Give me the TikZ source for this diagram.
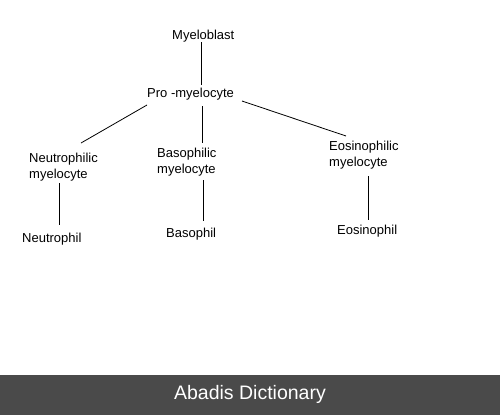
\documentclass[tikz,border=0pt]{standalone}
\usepackage{fontspec}
\setmainfont{Liberation Sans}
\definecolor{barcol}{HTML}{4A4A4A}
\begin{document}
\begin{tikzpicture}[x=1pt,y=-1pt,
  lbl/.style={inner sep=0pt,anchor=west,yshift=-1.5pt,font=\fontsize{13}{16}\selectfont,align=left,text=black},
  link/.style={draw=black,line width=0.8pt}]
\useasboundingbox (0,0) rectangle (500,415);
\fill[white] (0,0) rectangle (500,415);
\fill[barcol] (0,375) rectangle (500,415);
\node[inner sep=0pt,text=white,font=\fontsize{19.5}{22}\selectfont] (bar) at (250,394) {Abadis Dictionary};

\node[lbl] (mb) at (172,35) {Myeloblast};
\node[lbl] (pm) at (147,93) {Pro -myelocyte};
\node[lbl] (nm) at (29,166) {Neutrophilic\\myelocyte};
\node[lbl] (bm) at (157,161) {Basophilic\\myelocyte};
\node[lbl] (em) at (329,154) {Eosinophilic\\myelocyte};
\node[lbl] (np) at (22,238) {Neutrophil};
\node[lbl] (bp) at (166,233) {Basophil};
\node[lbl] (ep) at (337,230) {Eosinophil};

\coordinate (a1) at (201,42); \coordinate (a2) at (201,85);
\coordinate (b1) at (147,105); \coordinate (b2) at (81,143);
\coordinate (c1) at (202,106); \coordinate (c2) at (202,143);
\coordinate (d1) at (242,101); \coordinate (d2) at (346,136);
\coordinate (e1) at (59,183); \coordinate (e2) at (59,225);
\coordinate (f1) at (203,180); \coordinate (f2) at (203,221);
\coordinate (g1) at (368,176); \coordinate (g2) at (368,220);
\draw[link] (a1) -- (a2);
\draw[link] (b1) -- (b2);
\draw[link] (c1) -- (c2);
\draw[link] (d1) -- (d2);
\draw[link] (e1) -- (e2);
\draw[link] (f1) -- (f2);
\draw[link] (g1) -- (g2);
\end{tikzpicture}
\end{document}
